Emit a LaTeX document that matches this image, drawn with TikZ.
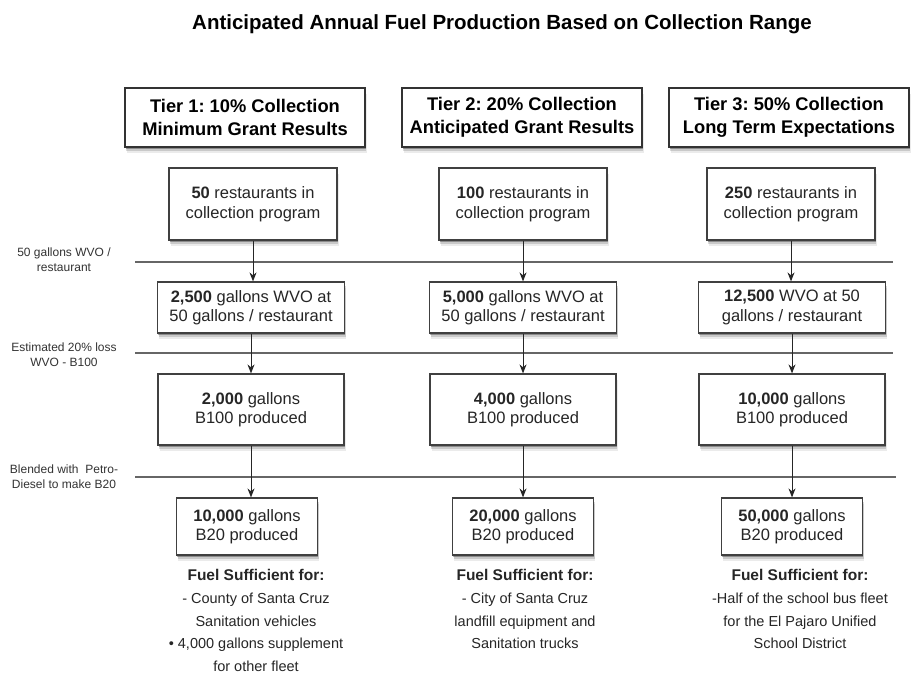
\documentclass[tikz,border=0pt]{standalone}
\usepackage{fontspec}
\setmainfont{Liberation Sans}
\usetikzlibrary{arrows.meta,shadows}
\newcommand{\usehead}{\bfseries\fontsize{15.5}{23}\selectfont}
\frenchspacing
\begin{document}
\begin{tikzpicture}[x=1pt,y=-1pt,
  boxshadow/.style={general shadow={shadow xshift=1.5pt,shadow yshift=-5.5pt,fill=black,opacity=0.08},
                    general shadow={shadow xshift=1pt,shadow yshift=-4pt,fill=black,opacity=0.14},
                    general shadow={shadow xshift=0.5pt,shadow yshift=-2.2pt,fill=black,opacity=0.3}},
  tierbox/.style={draw=black!80,line width=1.4pt,fill=white,boxshadow,minimum width=240pt,minimum height=59pt,
                  inner sep=0pt,align=center,font=\bfseries\fontsize{18.3}{23.5}\selectfont},
  procbox/.style={draw=black!75,line width=1.2pt,fill=white,boxshadow,inner sep=0pt,align=center,
                  font=\fontsize{16.5}{19.5}\selectfont,text=black!85},
  rbox/.style={procbox,minimum width=168pt,minimum height=72pt},
  wbox/.style={procbox,minimum width=187pt,minimum height=51pt},
  bbox/.style={procbox,minimum width=186pt,minimum height=71pt},
  pbox/.style={procbox,minimum width=141pt,minimum height=57pt},
  flow/.style={draw=black!85,line width=1pt,-{Stealth[length=9pt,width=7pt]}},
  divider/.style={draw=black!60,line width=1.2pt},
  sidelabel/.style={inner sep=0pt,align=center,font=\fontsize{12}{15}\selectfont,text=black!80},
  usetext/.style={inner sep=0pt,align=center,anchor=north,font=\fontsize{14.5}{22.8}\selectfont,text=black!85}
]
\useasboundingbox[fill=white] (0,0) rectangle (912,675);

% title
\node[inner sep=0pt,anchor=base,font=\bfseries\fontsize{20.5}{24}\selectfont] (title) at (502,29)
  {Anticipated Annual Fuel Production Based on Collection Range};

% divider lines
\coordinate (l1s) at (135,262); \coordinate (l1e) at (893,262);
\coordinate (l2s) at (135,353); \coordinate (l2e) at (893,353);
\coordinate (l3s) at (135,477); \coordinate (l3e) at (896,477);
\draw[divider] (l1s) -- (l1e);
\draw[divider] (l2s) -- (l2e);
\draw[divider] (l3s) -- (l3e);

% side labels
\node[sidelabel] (s1) at (64,260) {50 gallons WVO /\\restaurant};
\node[sidelabel] (s2) at (64,355) {Estimated 20\% loss\\WVO - B100};
\node[sidelabel] (s3) at (64,477) {Blended with\ \ Petro-\\Diesel to make B20};

% tier headers
\node[tierbox] (t1) at (245,117.5) {Tier 1: 10\% Collection\\Minimum Grant Results};
\node[tierbox] (t2) at (522,117.5) {Tier 2: 20\% Collection\\Anticipated Grant Results};
\node[tierbox] (t3) at (789,117.5) {Tier 3: 50\% Collection\\Long Term Expectations};

% column 1
\node[rbox] (r1) at (253,204) {\textbf{50} restaurants in\\collection program};
\node[wbox] (w1) at (251,307.5) {\textbf{2,500} gallons WVO at\\50 gallons / restaurant};
\node[bbox] (b1) at (251,409.5) {\textbf{2,000} gallons\\B100 produced};
\node[pbox] (p1) at (247,526.5) {\textbf{10,000} gallons\\B20 produced};

% column 2
\node[rbox] (r2) at (523,204) {\textbf{100} restaurants in\\collection program};
\node[wbox] (w2) at (523,307.5) {\textbf{5,000} gallons WVO at\\50 gallons / restaurant};
\node[bbox] (b2) at (523,409.5) {\textbf{4,000} gallons\\B100 produced};
\node[pbox] (p2) at (523,526.5) {\textbf{20,000} gallons\\B20 produced};

% column 3
\node[rbox] (r3) at (791,204) {\textbf{250} restaurants in\\collection program};
\node[wbox] (w3) at (792,307.5) {\textbf{12,500} WVO at 50\\gallons / restaurant};
\node[bbox] (b3) at (792,409.5) {\textbf{10,000} gallons\\B100 produced};
\node[pbox] (p3) at (792,526.5) {\textbf{50,000} gallons\\B20 produced};

% arrows
\draw[flow] (r1.south) -- (r1.south |- w1.north);
\draw[flow] (w1.south) -- (w1.south |- b1.north);
\draw[flow] (b1.south) -- (b1.south |- p1.north);
\draw[flow] (r2.south) -- (r2.south |- w2.north);
\draw[flow] (w2.south) -- (w2.south |- b2.north);
\draw[flow] (b2.south) -- (b2.south |- p2.north);
\draw[flow] (r3.south) -- (r3.south |- w3.north);
\draw[flow] (w3.south) -- (w3.south |- b3.north);
\draw[flow] (b3.south) -- (b3.south |- p3.north);

% usage texts
\node[usetext] (u1) at (256,569) {{\usehead Fuel Sufficient for:}\\- County of Santa Cruz\\Sanitation vehicles\\• 4,000 gallons supplement\\for other fleet};
\node[usetext] (u2) at (525,569) {{\usehead Fuel Sufficient for:}\\- City of Santa Cruz\\landfill equipment and\\Sanitation trucks};
\node[usetext] (u3) at (800,569) {{\usehead Fuel Sufficient for:}\\-Half of the school bus fleet\\for the El Pajaro Unified\\School District};
\end{tikzpicture}
\end{document}
